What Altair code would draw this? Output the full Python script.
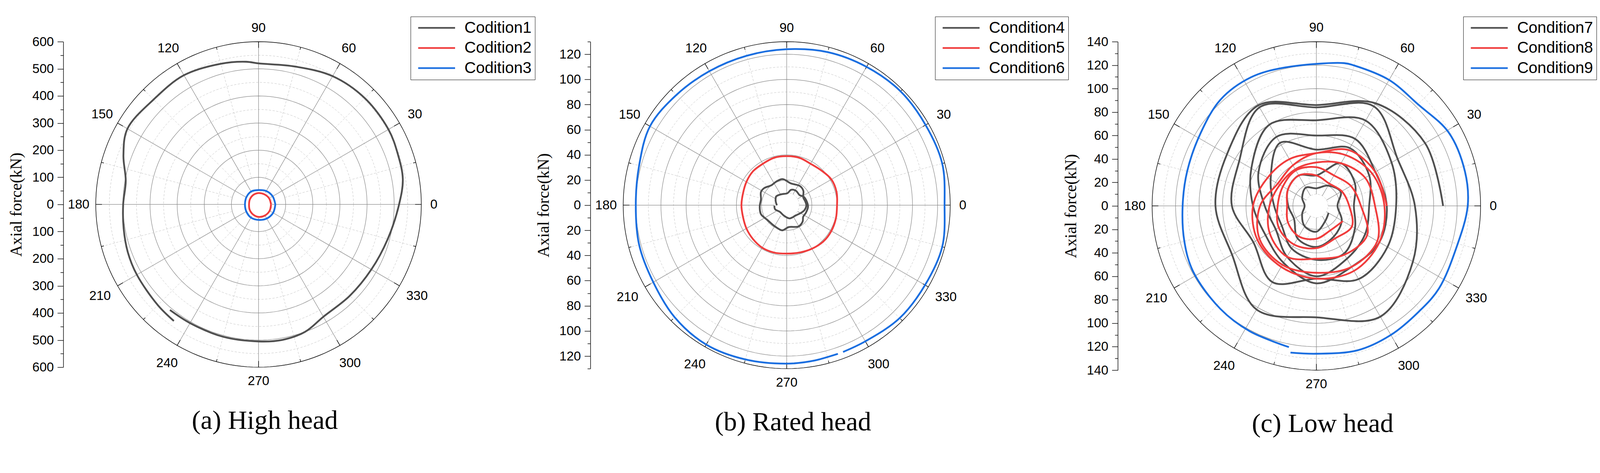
import altair as alt
import pandas as pd
import numpy as np

alt.data_transformers.disable_max_rows()

COLORS = ["#4f4f4f", "#f03c3c", "#1a6ee0"]
ANGLE_LABELS = [0, 30, 60, 90, 120, 150, 180, 210, 240, 270, 300, 330]
MINOR_SPOKES = [15, 45, 75, 105, 135, 165, 195, 225, 255, 285, 315, 345]

# ---------------- Panel (a) High head ----------------
A_NAMES = ["Codition1", "Codition2", "Codition3"]
A1_ANG = [230, 240, 255, 270, 280, 290, 300, 315, 330, 345, 0, 10, 20, 30, 45, 60, 75, 90,
          95, 105, 120, 135, 150, 160, 170, 180, 190, 200, 210, 225, 234]
A1_R = [508, 505, 505, 505, 507, 500, 478, 476, 480, 493, 518, 540, 546, 553, 554, 546, 526, 520,
        528, 537, 550, 547, 558, 530, 497, 499, 505, 513, 518, 525, 531]
A2_ANG = [0, 30, 60, 90, 120, 150, 180, 210, 240, 270, 300, 330, 360]
A2_R = [46, 45, 43, 42, 40, 37, 35, 38, 42, 46, 47, 47, 46]
A3_ANG = [0, 30, 60, 90, 120, 150, 180, 210, 240, 270, 300, 330, 360]
A3_R = [62, 60, 57, 53, 55, 52, 50, 52, 56, 57, 60, 62, 62]
A_TICKS = list(range(-600, 601, 50))
A_MAJOR = [100, 200, 300, 400, 500]
A_MINOR = [50, 150, 250, 350, 450, 550]

# ---------------- Panel (b) Rated head ----------------
B_NAMES = ["Condition4", "Condition5", "Condition6"]
B4_ANG = [182, 199, 225, 253, 283, 312, 331, 345, 359, 12, 25,
          41, 56, 79, 99, 114, 128, 143, 153, 167, 183, 199, 218, 241, 260, 275, 299, 314, 325,
          338, 356, 9, 26,
          38, 57, 74, 87, 117, 140, 158, 181]
B4_R = [9.8, 9.8, 7.6, 8.5, 10.8, 10.9, 12.8, 14.7, 15.6, 15.0, 14.5,
        17.5, 18.5, 17.6, 21.0, 20.5, 20.0, 22.5, 23.0, 21.0, 21.5, 21.7, 19.3, 19.3, 20.3, 17.5,
        19.3, 18.2, 16.0, 16.4, 17.0, 16.3, 15.2,
        13.0, 13.6, 12.7, 9.5, 9.7, 10.9, 9.5, 7.8]
B5_ANG = [0, 15, 30, 45, 60, 75, 90, 105, 120, 135, 150, 165, 180, 195, 210, 225, 240, 255,
          270, 285, 300, 315, 330, 345, 360]
B5_R = [40, 41, 41, 39, 38, 39, 39, 39, 38, 38, 37, 36, 36, 36, 37, 38, 39, 39, 38.5, 39, 40,
        41, 41, 40.5, 40]
B6_ANG = [291, 300, 315, 330, 345, 0, 15, 30, 45, 60, 75, 90, 105, 120, 135, 150, 165, 180,
          195, 210, 225, 240, 255, 270, 280, 289]
B6_R = [125, 125, 127, 127, 128, 125.5, 128, 127.5, 128, 127, 126, 124, 123, 123, 124, 125.5,
        121.5, 120, 121.5, 122.5, 126, 128, 127, 126, 125.5, 125]
B_TICKS = list(range(-130, 131, 10))
B_MAJOR = [20, 40, 60, 80, 100, 120]
B_MINOR = [10, 30, 50, 70, 90, 110]

# ---------------- Panel (c) Low head ----------------
C_NAMES = ["Condition7", "Condition8", "Condition9"]
C_LOOP_ANG = [0, 30, 60, 90, 120, 150, 180, 210, 240, 270, 300, 330]
C7_LOOPS = [
    [108, 107, 101, 86, 99, 88, 86, 83, 102, 95, 109, 95],
    [84, 80, 98, 84, 97, 76, 72, 62, 75, 62, 72, 70],
    [68, 74, 84, 73, 80, 64, 54, 50, 56, 66, 60, 62],
    [60, 58, 66, 60, 68, 57, 44, 40, 50, 60, 52, 48],
    [45, 52, 57, 48, 62, 45, 36, 34, 42, 46, 47, 38],
    [32, 38, 42, 26, 30, 28, 24, 22, 32, 35, 30, 25],
    [18, 24, 20, 15, 18, 14, 10, 14, 20, 22, 15, 12],
]
C8_LOOPS = [
    [60, 58, 55, 45, 46, 48, 54, 58, 60, 62, 64, 62],
    [58, 55, 50, 45, 40, 38, 48, 56, 58, 57, 60, 60],
    [50, 48, 42, 37, 36, 36, 40, 46, 50, 45, 48, 50],
    [38, 34, 30, 33, 35, 33, 33, 37, 38, 36, 32, 35],
    [28, 25, 22, 26, 30, 28, 25, 28, 30, 28, 24, 26],
]
C9_ANG = [260, 270, 286, 300, 314, 326, 343, 0, 13, 29, 45, 60, 75, 79, 103, 117, 132, 148,
          165, 180, 195, 208, 227, 242, 259]
C9_R = [127, 126, 128, 127, 125.5, 126, 124.5, 129, 130, 129, 122.5, 124, 124, 124, 121, 123,
        122, 116.5, 114, 114, 116.5, 119, 120, 121, 122.6]
C_TICKS = list(range(-140, 141, 10))
C_MAJOR = [20, 40, 60, 80, 100, 120]
C_MINOR = [10, 30, 50, 70, 90, 110, 130]


def loops(lists):
    angs, rs = [], []
    for lst in lists:
        angs += C_LOOP_ANG
        rs += lst
    return angs, rs


XY = dict(x="datum.r*cos(datum.ang*PI/180)", y="datum.r*sin(datum.ang*PI/180)")


def panel(names, series, R, size, ticks, label_step, major, minor, caption, leg_x, leg_y,
          axis_offset, interp):
    rows = []
    for name, (angs, rs) in zip(names, series):
        for i, (a, r) in enumerate(zip(angs, rs)):
            rows.append({"cond": name, "i": i, "ang": a, "r": r})
    curves = pd.DataFrame(rows)

    samp = np.arange(0, 361, 2)
    ring_rows = []
    for kind, lst in (("major", major), ("minor", minor), ("edge", [R])):
        for rr in lst:
            for a in samp:
                ring_rows.append({"kind": kind, "rr": rr, "ang": int(a), "r": rr})
    rings = pd.DataFrame(ring_rows)

    spokes = pd.DataFrame(
        [{"kind": "major", "ang": a, "r0": minor[0], "r1": R} for a in ANGLE_LABELS]
        + [{"kind": "minor", "ang": a, "r0": major[0], "r1": R} for a in MINOR_SPOKES])
    edge_ticks = pd.DataFrame(
        [{"ang": a, "f": 0.038} for a in ANGLE_LABELS] + [{"ang": a, "f": 0.016} for a in MINOR_SPOKES])
    labels = pd.DataFrame({"ang": ANGLE_LABELS, "lab": [str(a) for a in ANGLE_LABELS]})

    xsc = alt.Scale(domain=[-R, R], nice=False, zero=False)
    ysc = alt.Scale(domain=[-R, R], nice=False, zero=False)
    yaxis = alt.Axis(
        values=ticks,
        labelExpr=f"datum.value % {label_step} == 0 ? format(abs(datum.value), 'd') : ''",
        tickSize={"condition": {"test": f"datum.value % {label_step} != 0", "value": 8}, "value": 16},
        grid=False, offset=axis_offset, domainColor="black", domainWidth=1.5,
        tickColor="black", tickWidth=1.5, labelFont="Liberation Sans", labelFontSize=35,
        labelColor="black", labelPadding=10, labelOverlap=False, labelFlush=False,
        title="Axial force(kN)", titleFont="Liberation Serif", titleFontSize=44,
        titleFontWeight="normal", titleColor="black", titlePadding=20)

    def X(f):
        return alt.X(f, type="quantitative", scale=xsc, axis=None)

    def Y(f):
        return alt.Y(f, type="quantitative", scale=ysc, axis=yaxis)

    ring_base = alt.Chart(rings).transform_calculate(**XY)
    minor_rings = ring_base.transform_filter("datum.kind == 'minor'").mark_line(
        stroke="#c2c2c2", strokeWidth=1, strokeDash=[6, 4]).encode(
        x=X("x"), y=Y("y"), detail="rr:Q", order="ang:Q")
    major_rings = ring_base.transform_filter("datum.kind == 'major'").mark_line(
        stroke="#8a8a8a", strokeWidth=1.3).encode(
        x=X("x"), y=Y("y"), detail="rr:Q", order="ang:Q")
    edge_ring = ring_base.transform_filter("datum.kind == 'edge'").mark_line(
        stroke="black", strokeWidth=1.5).encode(
        x=X("x"), y=Y("y"), detail="rr:Q", order="ang:Q")

    sp_base = alt.Chart(spokes).transform_calculate(
        xa="datum.r0*cos(datum.ang*PI/180)", ya="datum.r0*sin(datum.ang*PI/180)",
        xb="datum.r1*cos(datum.ang*PI/180)", yb="datum.r1*sin(datum.ang*PI/180)")
    minor_spokes = sp_base.transform_filter("datum.kind == 'minor'").mark_rule(
        stroke="#c2c2c2", strokeWidth=1, strokeDash=[6, 4]).encode(
        x=X("xa"), y=Y("ya"), x2="xb:Q", y2="yb:Q")
    major_spokes = sp_base.transform_filter("datum.kind == 'major'").mark_rule(
        stroke="#8a8a8a", strokeWidth=1.3).encode(
        x=X("xa"), y=Y("ya"), x2="xb:Q", y2="yb:Q")

    eticks = alt.Chart(edge_ticks).transform_calculate(
        xa=f"{R}*cos(datum.ang*PI/180)", ya=f"{R}*sin(datum.ang*PI/180)",
        xb=f"{R}*(1-datum.f)*cos(datum.ang*PI/180)", yb=f"{R}*(1-datum.f)*sin(datum.ang*PI/180)"
    ).mark_rule(stroke="black", strokeWidth=1.5).encode(
        x=X("xa"), y=Y("ya"), x2="xb:Q", y2="yb:Q")

    lines = alt.Chart(curves).transform_calculate(**XY).mark_line(
        strokeWidth=4.8, interpolate=interp).encode(
        x=X("x"), y=Y("y"), order="i:Q",
        color=alt.Color("cond:N", scale=alt.Scale(domain=names, range=COLORS),
                        legend=alt.Legend(
                            title=None, orient="none", legendX=leg_x, legendY=leg_y,
                            symbolType="M-5,0L5,0", symbolSize=400, symbolStrokeWidth=4.5,
                            symbolOffset=40,
                            labelFont="Liberation Sans", labelFontSize=43, labelColor="black",
                            labelOffset=54, strokeColor="black", fillColor="white",
                            padding=9, rowPadding=10.5, labelLimit=0)))

    fexpr = ("1.085 + 0.028*abs(sin(2*datum.ang*PI/180))"
             " + (sin(datum.ang*PI/180) < -0.01 && abs(cos(datum.ang*PI/180)) > 0.01 ? 0.015 : 0)"
             " + (cos(datum.ang*PI/180) < -0.99 ? 0.02 : 0)"
             " - (cos(datum.ang*PI/180) > 0.99 ? 0.008 : 0)")
    text = alt.Chart(labels).transform_calculate(
        fr=fexpr).transform_calculate(
        x=f"{R}*datum.fr*cos(datum.ang*PI/180)", y=f"{R}*datum.fr*sin(datum.ang*PI/180)"
    ).mark_text(font="Liberation Sans", fontSize=35, color="black",
                align="center", baseline="middle").encode(
        x=X("x"), y=Y("y"), text="lab:N")

    return alt.layer(minor_rings, major_rings, minor_spokes, major_spokes, edge_ring, eticks,
                     lines, text).properties(
        width=size, height=size,
        title=alt.TitleParams(text=caption, orient="bottom", frame="group", offset=55,
                              font="Liberation Serif", fontSize=72, fontWeight="normal",
                              color="black", anchor="middle", dx=17))


pa = panel(A_NAMES, [(A1_ANG, A1_R), (A2_ANG, A2_R), (A3_ANG, A3_R)], 600, 882, A_TICKS, 100,
           A_MAJOR, A_MINOR, "(a) High head", 853, -68, 88, "catmull-rom")
pb = panel(B_NAMES, [(B4_ANG, B4_R), (B5_ANG, B5_R), (B6_ANG, B6_R)], 130, 886, B_TICKS, 20,
           B_MAJOR, B_MINOR, "(b) Rated head", 845, -68, 89, "catmull-rom")
pc = panel(C_NAMES, [loops(C7_LOOPS), loops(C8_LOOPS), (C9_ANG, C9_R)], 140, 890, C_TICKS, 20,
           C_MAJOR, C_MINOR, "(c) Low head", 843, -68, 93, "catmull-rom")

chart = alt.hconcat(pa, pb, pc, spacing=547, bounds="flush").resolve_scale(
    x="independent", y="independent", color="independent").configure_view(
    stroke=None).properties(
    padding={"left": 14, "top": 2, "right": 0, "bottom": 5}, background="white")

chart.save("out.html", embed_options={"renderer": "svg", "actions": False})
